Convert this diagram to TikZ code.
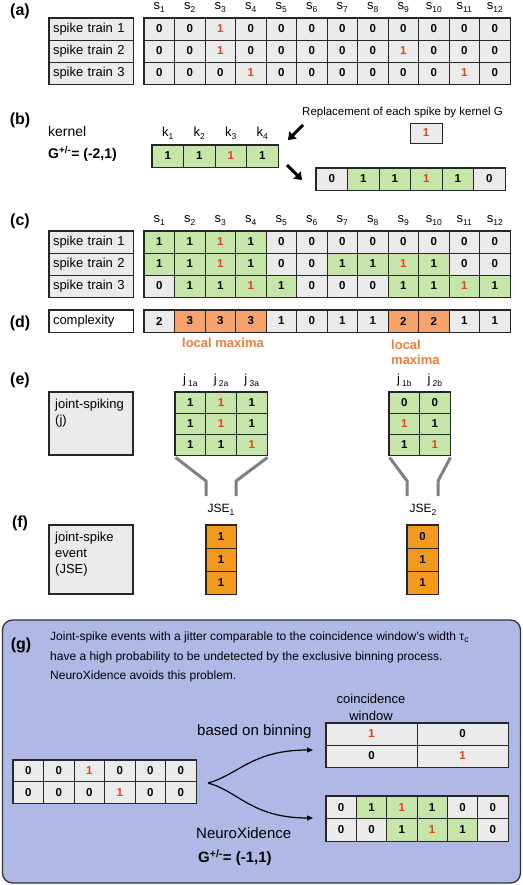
\documentclass[tikz,border=0pt]{standalone}
\usepackage{fontspec}
\setmainfont{Liberation Sans}
\usetikzlibrary{arrows.meta}
\definecolor{cellgray}{HTML}{EBEBEB}
\definecolor{cellgreen}{HTML}{C6E5A8}
\definecolor{cellsalmon}{HTML}{F6A26C}
\definecolor{jseorange}{HTML}{F39A1E}
\definecolor{redtxt}{HTML}{E8401C}
\definecolor{orangetxt}{HTML}{F07E3A}
\definecolor{panelblue}{HTML}{B0B8E6}
\colorlet{cw}{cellgray}
\colorlet{cg}{cellgreen}
\colorlet{co}{cellsalmon}
\colorlet{cj}{jseorange}
\colorlet{tk}{black}
\colorlet{tr}{redtxt}
\newcommand\fs[1]{\fontsize{#1}{#1}\selectfont}
\newcommand\fsl[2]{\fontsize{#1}{#2}\selectfont}
\newcommand\subidx[1]{\raisebox{-3pt}{\fs{8.5}#1}}
\newcommand\cellrow[6]{%
 \foreach \f/\tc/\v [count=\i] in {#6} {
   \node[cell,fill=c\f,text=t\tc,minimum width=#4pt,minimum height=#5pt] (#1\i) at ({#2+(\i-0.5)*#4},{#3+#5/2}) {\v};
 }}
\begin{document}
\begin{tikzpicture}[x=1pt,y=-1pt,
 cell/.style={draw=black!85,line width=0.9pt,inner sep=0pt,font=\bfseries\fs{11.5}},
 lab/.style={draw=black!85,line width=0.9pt,fill=cellgray,inner xsep=4pt,inner ysep=0pt,text width=76pt,align=left,minimum height=22pt,font=\fs{13}},
 frame/.style={draw=black!85,line width=1.5pt},
 hdr/.style={font=\fs{13},inner sep=0pt},
 plabel/.style={font=\bfseries\fs{16},inner sep=0pt},
 bigarrow/.style={line width=3pt,-{Triangle[length=7pt,width=10pt]}},
 funnel/.style={draw=black!50,line width=3pt},
 curve/.style={line width=1.2pt,-{Triangle[length=6pt,width=5pt]}},
 otext/.style={font=\bfseries\fs{13},text=orangetxt,inner sep=0pt},
]
\useasboundingbox (0,0) rectangle (522,885);

% ---------- (a)
\node[plabel] (pa) at (20,11) {(a)};
\foreach \i in {1,...,12} \node[hdr] (ha\i) at ({144+(\i-0.5)*30.5},8) {s\subidx{\i}};
\node[lab] (la1) at (91,29) {spike train 1};
\node[lab] (la2) at (91,51) {spike train 2};
\node[lab] (la3) at (91,73) {spike train 3};
\cellrow{a1-}{144}{18}{30.5}{22}{w/k/0,w/k/0,w/r/1,w/k/0,w/k/0,w/k/0,w/k/0,w/k/0,w/k/0,w/k/0,w/k/0,w/k/0}
\cellrow{a2-}{144}{40}{30.5}{22}{w/k/0,w/k/0,w/r/1,w/k/0,w/k/0,w/k/0,w/k/0,w/k/0,w/r/1,w/k/0,w/k/0,w/k/0}
\cellrow{a3-}{144}{62}{30.5}{22}{w/k/0,w/k/0,w/k/0,w/r/1,w/k/0,w/k/0,w/k/0,w/k/0,w/k/0,w/k/0,w/r/1,w/k/0}
\draw[frame] (la1.north west) rectangle (la3.south east);
\draw[frame] (a1-1.north west) rectangle (a3-12.south east);

% ---------- (b)
\node[plabel] (pb) at (20,120) {(b)};
\node[font=\fs{14},anchor=west,inner sep=0pt] (kern) at (48,131) {kernel};
\node[font=\bfseries\fs{14},anchor=west,inner sep=0pt] (gk) at (48,154) {G\textsuperscript{+/-}= (-2,1)};
\foreach \i in {1,...,4} \node[hdr] (hk\i) at ({152+(\i-0.5)*31.5},133) {k\subidx{\i}};
\cellrow{k}{152}{145}{31.5}{22}{g/k/1,g/k/1,g/r/1,g/k/1}
\draw[frame] (k1.north west) rectangle (k4.south east);
\node[font=\fs{11.5},anchor=west,inner sep=0pt] (repl) at (302,113) {Replacement of each spike by kernel G};
\node[cell,fill=cellgray,text=redtxt,minimum width=32pt,minimum height=20pt] (one) at (426,133) {1};
\coordinate (ar1s) at (303,125);
\coordinate (ar1e) at (288,140);
\coordinate (ar2s) at (287,165);
\coordinate (ar2e) at (302,180);
\draw[bigarrow] (ar1s) -- (ar1e);
\draw[bigarrow] (ar2s) -- (ar2e);
\cellrow{r}{316}{168}{31.5}{22}{w/k/0,g/k/1,g/k/1,g/r/1,g/k/1,w/k/0}
\draw[frame] (r1.north west) rectangle (r6.south east);

% ---------- (c)
\node[plabel] (pc) at (20,221) {(c)};
\foreach \i in {1,...,12} \node[hdr] (hc\i) at ({144+(\i-0.5)*30.5},221) {s\subidx{\i}};
\node[lab] (lc1) at (91,242) {spike train 1};
\node[lab] (lc2) at (91,264) {spike train 2};
\node[lab] (lc3) at (91,286) {spike train 3};
\cellrow{c1-}{144}{231}{30.5}{22}{g/k/1,g/k/1,g/r/1,g/k/1,w/k/0,w/k/0,w/k/0,w/k/0,w/k/0,w/k/0,w/k/0,w/k/0}
\cellrow{c2-}{144}{253}{30.5}{22}{g/k/1,g/k/1,g/r/1,g/k/1,w/k/0,w/k/0,g/k/1,g/k/1,g/r/1,g/k/1,w/k/0,w/k/0}
\cellrow{c3-}{144}{275}{30.5}{22}{w/k/0,g/k/1,g/k/1,g/r/1,g/k/1,w/k/0,w/k/0,w/k/0,g/k/1,g/k/1,g/r/1,g/k/1}
\draw[frame] (lc1.north west) rectangle (lc3.south east);
\draw[frame] (c1-1.north west) rectangle (c3-12.south east);

% ---------- (d)
\node[plabel] (pd) at (20,323) {(d)};
\node[lab,fill=white] (ld) at (91,321) {complexity};
\cellrow{d}{144}{310}{30.5}{22}{w/k/2,o/k/3,o/k/3,o/k/3,w/k/1,w/k/0,w/k/1,w/k/1,o/k/2,o/k/2,w/k/1,w/k/1}
\draw[frame] (ld.north west) rectangle (ld.south east);
\draw[frame] (d1.north west) rectangle (d12.south east);
\node[otext] (lm1) at (223,343) {local maxima};
\node[otext,anchor=west,align=left,font=\bfseries\fsl{13}{15}] (lm2) at (391,352) {local\\maxima};

% ---------- (e)
\node[plabel] (pe) at (20,380) {(e)};
\node[draw=black!85,line width=1.5pt,fill=cellgray,minimum width=84pt,minimum height=63pt,inner sep=0pt] (le) at (91,423.5) {};
\node[anchor=north west,align=left,inner sep=0pt,font=\fsl{13}{16}] (let) at (55,399) {joint-spiking\\(j)};
\foreach \i/\s in {1/1a,2/2a,3/3a} \node[hdr] (hj\i) at ({175+(\i-0.5)*30.7},380) {j\,\subidx{\s}};
\foreach \i/\s in {1/1b,2/2b} \node[hdr] (hjb\i) at ({389+(\i-0.5)*30.5},380) {j\,\subidx{\s}};
\cellrow{ma1-}{175}{392}{30.7}{21}{g/k/1,g/r/1,g/k/1}
\cellrow{ma2-}{175}{413}{30.7}{21}{g/k/1,g/r/1,g/k/1}
\cellrow{ma3-}{175}{434}{30.7}{21}{g/k/1,g/k/1,g/r/1}
\cellrow{mb1-}{389}{392}{30.5}{21}{g/k/0,g/k/0}
\cellrow{mb2-}{389}{413}{30.5}{21}{g/r/1,g/k/1}
\cellrow{mb3-}{389}{434}{30.5}{21}{g/k/1,g/r/1}
\draw[frame] (ma1-1.north west) rectangle (ma3-3.south east);
\draw[frame] (mb1-1.north west) rectangle (mb3-2.south east);

% ---------- (f)
\node[plabel] (pf) at (20,523) {(f)};
\node[draw=black!85,line width=1.5pt,fill=cellgray,minimum width=84pt,minimum height=69pt,inner sep=0pt] (lf) at (91,559.5) {};
\node[anchor=north west,align=left,inner sep=0pt,font=\fsl{13}{16}] (lft) at (55,532) {joint-spike\\event\\(JSE)};
\node[hdr,font=\fs{12}] (jh1) at (221,510) {JSE\subidx{1}};
\node[hdr,font=\fs{12}] (jh2) at (423,510) {JSE\subidx{2}};
\cellrow{ja1-}{206}{525}{30}{23}{j/k/1}
\cellrow{ja2-}{206}{548}{30}{23}{j/k/1}
\cellrow{ja3-}{206}{571}{30}{23}{j/k/1}
\cellrow{jb1-}{407}{525}{31}{23}{j/k/0}
\cellrow{jb2-}{407}{548}{31}{23}{j/k/1}
\cellrow{jb3-}{407}{571}{31}{23}{j/k/1}
\draw[frame] (ja1-1.north west) rectangle (ja3-1.south east);
\draw[frame] (jb1-1.north west) rectangle (jb3-1.south east);
% funnels
\coordinate (fa1) at (206,481); \coordinate (fa2) at (206,496);
\coordinate (fa3) at (236,481); \coordinate (fa4) at (236,496);
\coordinate (fb1) at (407,481); \coordinate (fb2) at (407,496);
\coordinate (fb3) at (438,481); \coordinate (fb4) at (438,496);
\draw[funnel] ([shift={(1,2)}]ma3-1.south west) -- (fa1) -- (fa2);
\draw[funnel] ([shift={(0,2)}]ma3-3.south east) -- (fa3) -- (fa4);
\draw[funnel] ([shift={(1,2)}]mb3-1.south west) -- (fb1) -- (fb2);
\draw[funnel] ([shift={(0,2)}]mb3-2.south east) -- (fb3) -- (fb4);

% ---------- (g)
\node[draw=black!80,line width=1.3pt,fill=panelblue,rounded corners=10pt,minimum width=518pt,minimum height=263pt,inner sep=0pt] (gpanel) at (261.5,751.5) {};
\node[plabel] (pg) at (21,645) {(g)};
\node[anchor=north west,align=left,inner sep=0pt,font=\fsl{12}{19.5}] (gtext) at (50,632) {Joint-spike events with a jitter comparable to the coincidence window's width τ\raisebox{-2pt}{\fs{8.5}c}\\have a high probability to be undetected by the exclusive binning process.\\NeuroXidence avoids this problem.};
\node[align=center,inner sep=0pt,font=\fsl{13}{17}] (cw) at (371,707) {coincidence\\window};
\node[anchor=west,inner sep=0pt,font=\fs{15}] (bob) at (197,732) {based on binning};
\node[anchor=west,inner sep=0pt,font=\fs{15}] (nx) at (196,833) {NeuroXidence};
\node[anchor=west,inner sep=0pt,font=\bfseries\fs{15}] (gg) at (198,858) {G\textsuperscript{+/-}= (-1,1)};
\cellrow{g1-}{13}{760}{30.5}{21.5}{w/k/0,w/k/0,w/r/1,w/k/0,w/k/0,w/k/0}
\cellrow{g2-}{13}{781.5}{30.5}{21.5}{w/k/0,w/k/0,w/k/0,w/r/1,w/k/0,w/k/0}
\draw[frame] (g1-1.north west) rectangle (g2-6.south east);
\cellrow{t1-}{326}{723}{91}{22}{w/r/1,w/k/0}
\cellrow{t2-}{326}{745}{91}{22}{w/k/0,w/r/1}
\draw[frame] (t1-1.north west) rectangle (t2-2.south east);
\cellrow{n1-}{326}{796}{30.33}{22.5}{w/k/0,g/k/1,g/r/1,g/k/1,w/k/0,w/k/0}
\cellrow{n2-}{326}{818.5}{30.33}{22.5}{w/k/0,w/k/0,g/k/1,g/r/1,g/k/1,w/k/0}
\draw[frame] (n1-1.north west) rectangle (n2-6.south east);
\coordinate (split) at (208,783);
\coordinate (endtop) at (313,750);
\coordinate (endbot) at (313,818);
\draw[curve] (split) .. controls (238,775) and (252,750) .. (endtop);
\draw[curve] (split) .. controls (238,791) and (252,818) .. (endbot);
\end{tikzpicture}
\end{document}
